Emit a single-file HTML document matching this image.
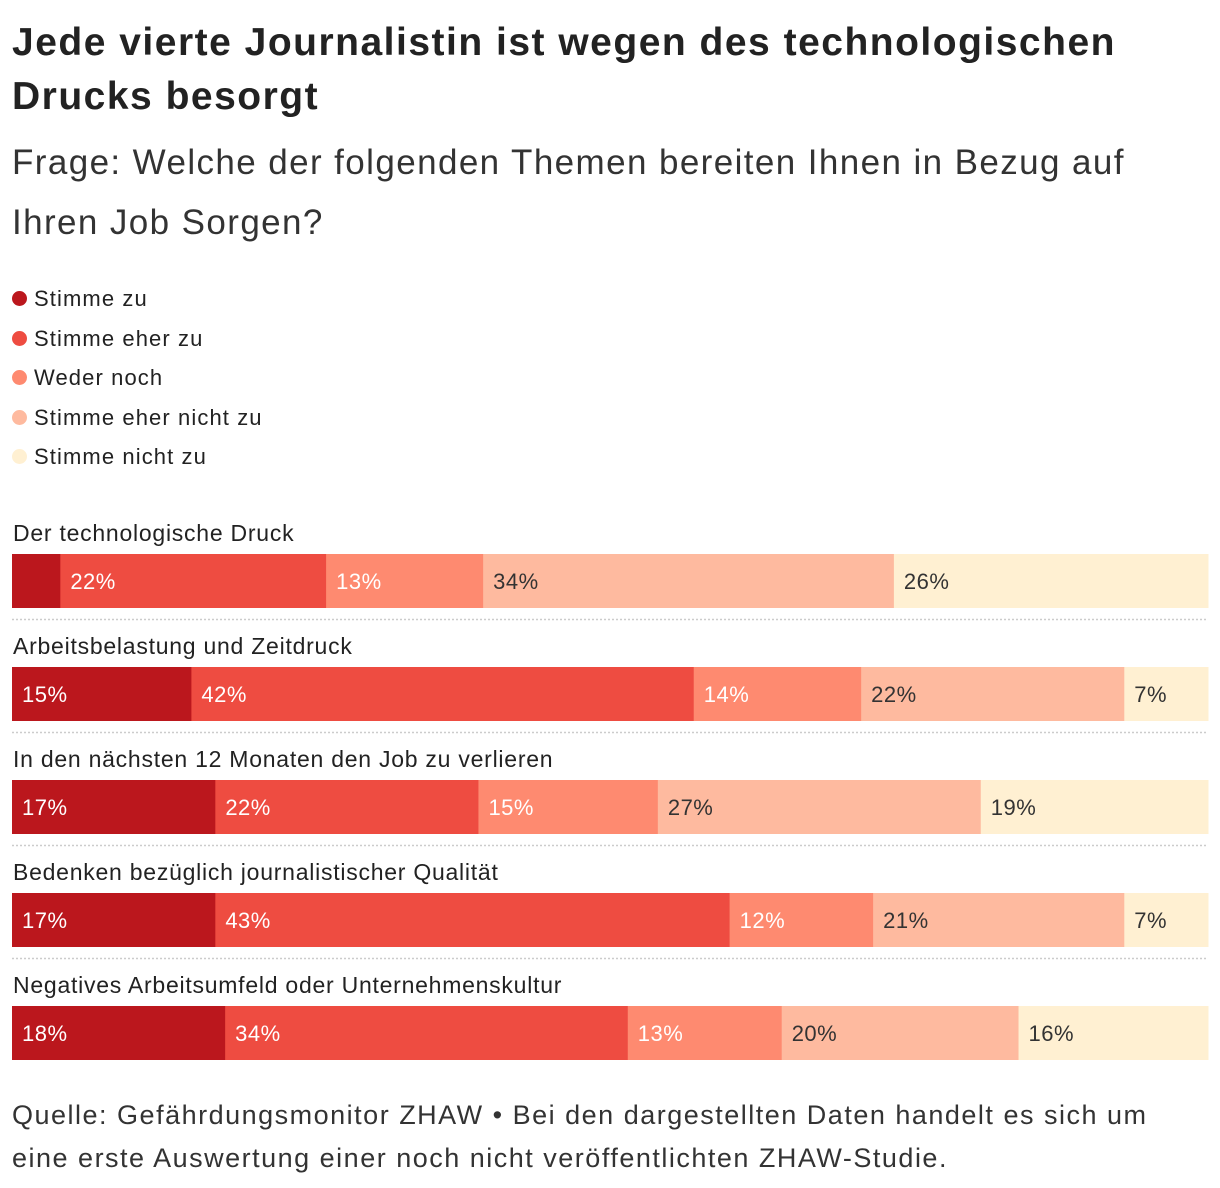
<!DOCTYPE html>
<html><head><meta charset="utf-8"><style>
body{margin:0;width:1220px;height:1188px;background:#fff;font-family:"Liberation Sans",sans-serif;color:#222;position:relative;overflow:hidden}
.t{position:absolute;left:12px;white-space:nowrap}
</style></head><body>
<div class="t" style="top:16px;font-size:39px;letter-spacing:1.5px;font-weight:bold;line-height:54px">Jede vierte Journalistin ist wegen des technologischen<br>Drucks besorgt</div>
<div class="t" style="top:133px;font-size:35px;letter-spacing:1.4px;line-height:60px;color:#333">Frage: Welche der folgenden Themen bereiten Ihnen in Bezug auf<br>Ihren Job Sorgen?</div>
<div id="legend"></div>
<svg id="chart" width="1220" height="1188" style="position:absolute;left:0;top:0"></svg>
<div class="t" style="top:1094px;font-size:27px;letter-spacing:1.5px;line-height:43px;color:#333">Quelle: Gefährdungsmonitor ZHAW • Bei den dargestellten Daten handelt es sich um<br>eine erste Auswertung einer noch nicht veröffentlichten ZHAW-Studie.</div>
<script>
const categories=["Der technologische Druck","Arbeitsbelastung und Zeitdruck","In den nächsten 12 Monaten den Job zu verlieren","Bedenken bezüglich journalistischer Qualität","Negatives Arbeitsumfeld oder Unternehmenskultur"];
const seriesNames=["Stimme zu","Stimme eher zu","Weder noch","Stimme eher nicht zu","Stimme nicht zu"];
const stimmeZu=[4,15,17,17,18];
const eherZu=[22,42,22,43,34];
const wederNoch=[13,14,15,12,13];
const eherNicht=[34,22,27,21,20];
const nichtZu=[26,7,19,7,16];
const colors=["#bb171d","#ee4c41","#fe8a70","#feba9f","#fff0d2"];
const textColors=["#fff","#fff","#fff","#333","#333"];
const series=[stimmeZu,eherZu,wederNoch,eherNicht,nichtZu];
const NS="http://www.w3.org/2000/svg";
const svg=document.getElementById('chart');
const X0=12,W=1196;
const rowTop=i=>554+i*113;
const xScale=(v,sum)=>v/sum*W;
const lg=document.getElementById('legend');
seriesNames.forEach((n,i)=>{
  const d=document.createElement('div');
  
  
  d.style.cssText=`position:absolute;left:12px;top:${286+i*39.5}px;font-size:22px;letter-spacing:1.1px;line-height:26px;white-space:nowrap`;
  d.innerHTML=`<span style="display:inline-block;width:15px;height:15px;border-radius:50%;background:${colors[i]};margin-right:7px;vertical-align:0px"></span>${n}`;
  lg.appendChild(d);
});
categories.forEach((c,r)=>{
  const y=rowTop(r);
  const lab=document.createElementNS(NS,'text');
  
  
  lab.setAttribute('x',X0+1);lab.setAttribute('y',y-13);
  lab.setAttribute('font-size','23');lab.setAttribute('letter-spacing','0.75');lab.setAttribute('fill','#222');
  lab.textContent=c;svg.appendChild(lab);
  const sum=series.reduce((a,s)=>a+s[r],0);
  let x=X0;
  series.forEach((s,k)=>{
    const w=xScale(s[r],sum);
    const rect=document.createElementNS(NS,'rect');
    
    
    rect.setAttribute('x',x);rect.setAttribute('y',y);rect.setAttribute('width',w+0.5);rect.setAttribute('height',54);
    rect.setAttribute('fill',colors[k]);svg.appendChild(rect);
    if(w>62){
      const t=document.createElementNS(NS,'text');
      
      
      t.setAttribute('x',x+10);t.setAttribute('y',y+35);
      t.setAttribute('font-size','22');t.setAttribute('letter-spacing','0.5');t.setAttribute('fill',textColors[k]);
      t.textContent=s[r]+'%';svg.appendChild(t);
    }
    x+=w;
  });
  if(r<categories.length-1){
    const l=document.createElementNS(NS,'line');
    
    
    l.setAttribute('x1',X0);l.setAttribute('x2',X0+W);
    l.setAttribute('y1',y+65.5);l.setAttribute('y2',y+65.5);
    l.setAttribute('stroke','#ccc');l.setAttribute('stroke-width','1.5');l.setAttribute('stroke-dasharray','2,2');
    svg.appendChild(l);
  }
});
</script>
</body></html>
